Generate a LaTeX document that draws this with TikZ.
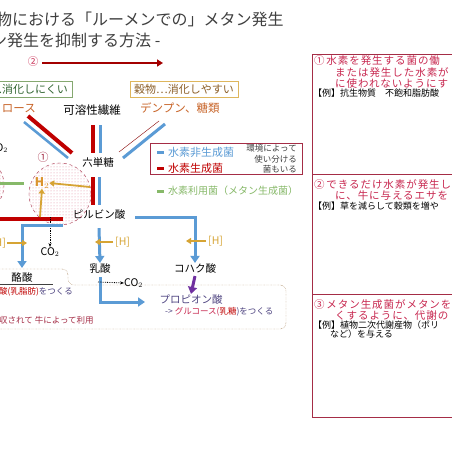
\documentclass[tikz,border=0pt]{standalone}
\usepackage{fontspec}
\setmainfont{Noto Sans CJK JP}
\newfontfamily\boxfont[LetterSpace=9]{Noto Sans CJK JP}
\usetikzlibrary{arrows.meta,patterns}
\definecolor{hred}{RGB}{192,0,0}
\definecolor{hblue}{RGB}{91,155,213}
\definecolor{hgreen}{RGB}{135,185,105}
\definecolor{hgold}{RGB}{214,164,52}
\definecolor{horange}{RGB}{200,100,40}
\definecolor{hpink}{RGB}{200,40,80}
\definecolor{hframe}{RGB}{165,45,70}
\definecolor{hgray}{RGB}{64,64,64}
\definecolor{hpurple}{RGB}{112,48,160}
\definecolor{hnavy}{RGB}{80,70,130}
\definecolor{hbrown}{RGB}{140,95,40}
\begin{document}
\begin{tikzpicture}[x=1pt,y=-1pt,
  txt/.style={inner sep=0pt,font=\fontsize{10.5}{12}\selectfont},
  small/.style={inner sep=0pt,font=\fontsize{8.5}{10}\selectfont},
  boxtxt/.style={inner sep=0pt,anchor=west,text=hpink,font=\boxfont\fontsize{10.5}{12}\selectfont},
  boxex/.style={inner sep=0pt,anchor=west,font=\fontsize{9}{10}\selectfont},
  redbar/.style={draw=hred,line width=4pt},
  bluebar/.style={draw=hblue,line width=3pt},
  flow/.style={draw=hblue,line width=3pt,-{Triangle[length=7pt,width=9pt]}},
  harrow/.style={draw=hgold,line width=1.8pt,-{Triangle[length=5pt,width=6pt]}},
  gasarrow/.style={densely dotted,thick,-{Stealth[length=4pt]}},
  circ/.style={circle,draw=hframe,dashed,thin,pattern=dots,pattern color=hpink!55},
  panel/.style={draw=hframe,thick}]
\fill[white] (0,0) rectangle (452,452);
\useasboundingbox (0,0) rectangle (452,452);

% title
\node[anchor=west,inner sep=0pt,text=hgray,font=\fontsize{16}{18}\selectfont] (title1) at (-4,19) {物における「ルーメンでの」メタン発生};
\node[anchor=west,inner sep=0pt,text=hgray,font=\fontsize{16}{18}\selectfont] (title2) at (-9,40) {ン発生を抑制する方法 -};

% arrow 2
\node[txt,text=hpink] (two) at (33,62) {②};
\coordinate (twoend) at (163,63);
\draw[draw=hred!85!black,line width=2pt,-{Triangle[length=6pt,width=7pt]}] (two.east) ++(4,1) -- (twoend);

% feed boxes
\node[draw=hgreen!70!gray,anchor=east,inner xsep=4pt,inner ysep=3pt,text=hgray!80!green,font=\fontsize{11}{12}\selectfont] (grass) at (72,89) {…消化しにくい};
\node[draw=hgold!80,inner xsep=4pt,inner ysep=3pt,text=hbrown,font=\fontsize{11}{12}\selectfont] (grain) at (184,89) {穀物…消化しやすい};
\node[txt,anchor=east,text=horange,font=\fontsize{11.5}{12}\selectfont] (cell) at (36,109) {ロース};
\node[txt,font=\fontsize{11.5}{12}\selectfont] (fiber) at (92,110) {可溶性繊維};
\node[txt,anchor=west,text=horange,font=\fontsize{11.5}{12}\selectfont] (starch) at (140,108) {デンプン、糖類};

% metabolites
\node[txt] (hex) at (98,163) {六単糖};
\node[txt] (pyr) at (99,214) {ピルビン酸};
\node[txt] (lac) at (100,268) {乳酸};
\node[txt] (suc) at (195,268) {コハク酸};
\node[txt,text=hnavy] (pro) at (191,299) {プロピオン酸};
\node[txt] (but) at (22,277) {酪酸};

% hydrogen pool
\node[circ,minimum size=62pt] (pool) at (60,194) {};
\node[circ,minimum size=60pt] (pool0) at (-26,185) {};
\node[txt,text=hframe,font=\fontsize{11}{12}\selectfont] (one) at (43,157) {①};
\node[txt,text=hgold!90!red,font=\bfseries\fontsize{12}{12}\selectfont] (h2) at (42,183) {H$_2$};
\node[txt,anchor=east] (co2a) at (8,148) {CO$_2$};

% bars
\coordinate (c1) at (28,116); \coordinate (c2) at (72,153);
\coordinate (c3) at (24,122); \coordinate (c4) at (68,158);
\draw[redbar] (c1) -- (c2);
\draw[bluebar,line width=2.5pt] (c3) -- (c4);
\draw[redbar] (93,125) -- (93,153);
\draw[bluebar] (100,125) -- (100,153);
\coordinate (s1) at (159,121); \coordinate (s2) at (119,152);
\coordinate (s3) at (165,124); \coordinate (s4) at (123,158);
\draw[hred!70!black,thin] (s1) -- (s2);
\draw[bluebar] (s3) -- (s4);
\draw[redbar] (93,177) -- (93,205);
\draw[bluebar] (99,177) -- (99,205);
\draw[hgreen,line width=3pt] (-2,183) -- (24,183);
\draw[redbar] (-2,219) -- (63,219);

% hydrogen arrows
\draw[harrow] (90,187) -- (h2.east);
\draw[harrow] (40,217) -- (h2.south);
\coordinate (co2bt) at (50,217);
\node[txt] (co2b) at (50,252) {CO$_2$};
\draw[gasarrow] (co2bt) -- (co2b.north);

% flows
\draw[flow] (63,225) -- (22,225) -- (22,268);
\draw[flow] (pyr.south) ++(0,9) -- (lac.north);
\draw[flow] (135,217) -| (suc.north);
\coordinate (lacend) at (145,302);
\draw[flow] (lac.south) ++(0,4) |- (lacend);
\draw[draw=hpurple,line width=3pt,-{Triangle[length=7pt,width=9pt]}] (suc.south) ++(0,3) -- (pro.north);
\node[txt,anchor=west] (co2c) at (124,283) {CO$_2$};
\draw[gasarrow] (98,282) -- (co2c.west);

% [H]
\node[txt,text=hgold,anchor=east] (hl) at (6,243) {[H]};
\draw[harrow] (hl.east) ++(1,0) -- (27,243);
\node[txt,text=hgold,anchor=west] (hm) at (115,242) {[H]};
\draw[harrow] (hm.west) ++(-2,0) -- (95,242);
\node[txt,text=hgold,anchor=west] (hr) at (208,241) {[H]};
\draw[harrow] (hr.west) ++(-2,0) -- (186,241);

% legend
\draw[hframe] (150,143) rectangle (302,174);
\draw[hblue,line width=3pt] (157,152) -- (164,152);
\node[txt,anchor=west,text=hblue,font=\fontsize{11}{12}\selectfont] (lg1) at (168,152) {水素非生成菌};
\draw[hred,line width=3pt] (157,168) -- (164,168);
\node[txt,anchor=west,text=hred,font=\fontsize{11}{12}\selectfont] (lg2) at (168,168) {水素生成菌};
\node[small,anchor=east,align=right,text=hgray,font=\fontsize{8.5}{10.3}\selectfont] (lg3) at (297,159) {環境によって\\使い分ける\\菌もいる};
\draw[hgreen,line width=3pt] (157,191) -- (164,191);
\node[txt,anchor=west,text=hgreen,font=\fontsize{10}{12}\selectfont] (lg4) at (168,191) {水素利用菌（メタン生成菌）};

% bottom box
\draw[hbrown,densely dotted,rounded corners=6pt] (-2,269) -- (68,269) -- (68,285) -- (286,285) -- (286,329) -- (-2,329);
\draw[hgray] (-2,284) -- (53,284);
\node[small,anchor=west] (butnote) at (-1,292) {\textcolor{hred}{酸(乳脂肪)}\textcolor{hnavy}{をつくる}};
\node[small,anchor=west] (pronote) at (165,312) {\textcolor{hnavy}{-> }\textcolor{hpink}{グルコース(}\textcolor{hred}{乳糖}\textcolor{hnavy}{)をつくる}};
\node[small,anchor=west,text=hframe] (absorb) at (-1,320) {収されて 牛によって利用};

% right panels
\draw[panel] (312,54) rectangle (470,174);
\draw[panel] (312,174) rectangle (470,294);
\draw[panel] (312,294) rectangle (470,417);
\node[boxtxt] (p1a) at (314,61) {①\,水素を発生する菌の働};
\node[boxtxt] (p1b) at (335,72.5) {または発生した水素が};
\node[boxtxt] (p1c) at (335,83.5) {に使われないようにす};
\node[boxex] (p1d) at (313,93.5) {【例】抗生物質　不飽和脂肪酸};
\node[boxtxt] (p2a) at (314,185) {②\,できるだけ水素が発生し};
\node[boxtxt] (p2b) at (335,196) {に、牛に与えるエサを};
\node[boxex] (p2c) at (313,206) {【例】草を減らして穀類を増や};
\node[boxtxt] (p3a) at (314,305) {③\,メタン生成菌がメタンを};
\node[boxtxt] (p3b) at (335,316) {くするように、代謝の};
\node[boxex] (p3c) at (313,325.5) {【例】植物二次代謝産物（ポリ};
\node[boxex] (p3d) at (330,334.5) {など）を与える};
\end{tikzpicture}
\end{document}
